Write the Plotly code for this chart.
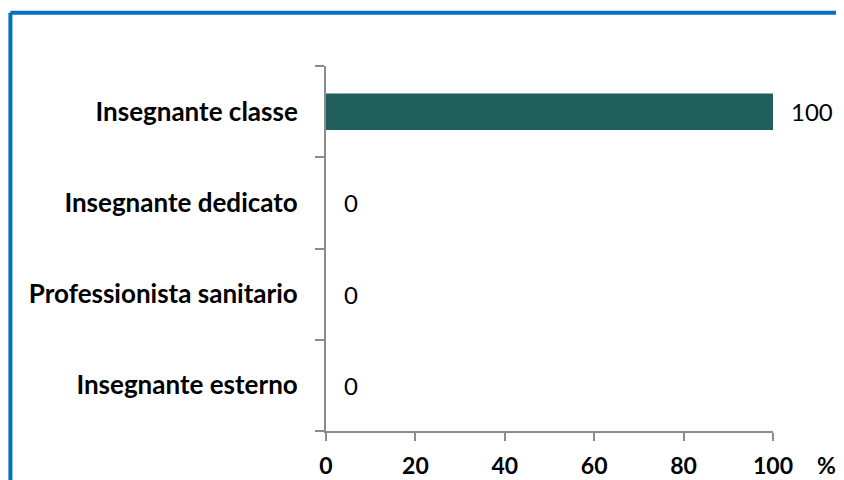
import plotly.graph_objects as go

categories = ["Insegnante classe", "Insegnante dedicato",
              "Professionista sanitario", "Insegnante esterno"]
values = [100, 0, 0, 0]
x_ticks = [0, 20, 40, 60, 80, 100]

FONT = "Lato, 'Open Sans', sans-serif"
AXIS_GREY = "#8c8c8c"

fig = go.Figure()
fig.add_trace(go.Bar(
    y=categories, x=values, orientation="h",
    marker=dict(color="#215e5e", line=dict(width=0)),
    width=0.4, hoverinfo="x+y",
))

# value labels to the right of each bar
for cat, val in zip(categories, values):
    fig.add_annotation(x=val, y=cat, text=str(val), showarrow=False,
                       xanchor="left", xshift=16,
                       font=dict(family=FONT, size=24, color="#000000"))

# "%" unit next to x tick labels
fig.add_annotation(x=1.0, y=0, xref="paper", yref="paper", text="<b>%</b>",
                   showarrow=False, xanchor="center", yanchor="middle",
                   xshift=53, yshift=-34,
                   font=dict(family=FONT, size=23, color="#000000"))

# blue frame (top and left edges)
frame = dict(color="#0070c0", width=4)
fig.add_shape(type="line", xref="paper", yref="paper",
              x0=-0.706, x1=1.2, y0=1.146, y1=1.146, line=frame)
fig.add_shape(type="line", xref="paper", yref="paper",
              x0=-0.706, x1=-0.706, y0=1.146, y1=-0.2, line=frame)

# the page body adds an 8px margin, so the figure is 8px smaller
fig.update_layout(
    width=836, height=472,
    margin=dict(l=318, r=71, t=58, b=49),
    paper_bgcolor="white", plot_bgcolor="white",
    showlegend=False,
    font=dict(family=FONT, size=26, color="#000000"),
    bargap=0.6,
)
fig.update_xaxes(
    range=[0, 100], tickvals=x_ticks, ticktext=[f"<b>{t}</b>" for t in x_ticks],
    showgrid=False, zeroline=False, showline=True, linecolor=AXIS_GREY,
    linewidth=2, ticks="outside", ticklen=8, tickwidth=2, tickcolor=AXIS_GREY,
    ticklabelstandoff=5, tickfont=dict(size=23), fixedrange=True,
    automargin=False,
)
fig.update_yaxes(
    categoryorder="array", categoryarray=categories[::-1],
    range=[-0.5, 3.5], tickson="boundaries",
    ticktext=[f"<b>{c}</b>" for c in categories[::-1]],
    tickvals=categories[::-1],
    showgrid=False, zeroline=False, showline=True, linecolor=AXIS_GREY,
    linewidth=2, ticks="outside", ticklen=9, tickwidth=2, tickcolor=AXIS_GREY,
    ticklabelstandoff=21, tickfont=dict(size=26), fixedrange=True,
    automargin=False,
)

fig.write_html("out.html")
